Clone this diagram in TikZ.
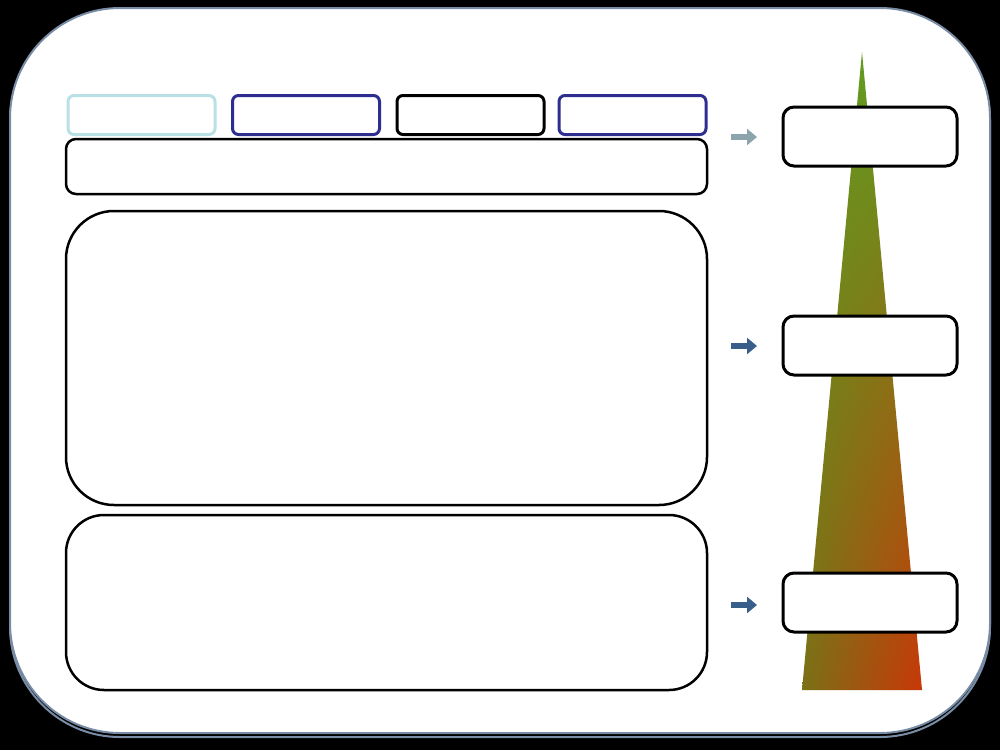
\documentclass[tikz,border=0pt]{standalone}
\usetikzlibrary{arrows.meta,shadings}
\definecolor{frame}{RGB}{120,140,165}
\definecolor{lcyan}{RGB}{185,224,228}
\definecolor{dblue}{RGB}{46,46,145}
\definecolor{agray}{RGB}{140,165,172}
\definecolor{ablue}{RGB}{58,94,140}
\definecolor{tgreen}{RGB}{98,155,32}
\definecolor{tolive}{RGB}{122,112,22}
\definecolor{torange}{RGB}{200,55,8}
\tikzset{
  smallbox/.style={draw, line width=3pt, rounded corners=6pt, fill=white, inner sep=0pt, minimum width=147pt, minimum height=39pt},
  bigbox/.style={draw=black, line width=2.5pt, fill=white, inner sep=0pt},
  sidebox/.style={draw=black, line width=3pt, rounded corners=11pt, fill=white, inner sep=0pt, minimum width=174pt, minimum height=59pt},
  fatarrow/.style={line width=6pt, -{Triangle[length=10pt,width=16pt]}},
}
\begin{document}
\begin{tikzpicture}[x=1pt,y=-1pt]
\useasboundingbox (0,0) rectangle (1000,750);
\fill[black] (0,0) rectangle (1000,750);
% outer panel with shadow
\draw[frame, line width=2pt, rounded corners=110pt] (10,11) rectangle (990,737);
\draw[frame, line width=2pt, fill=white, rounded corners=110pt] (10,8) rectangle (990,733);
% triangle
\begin{scope}
\clip (862,52) -- (922,690) -- (802,690) -- cycle;
\shade[upper left=tgreen, upper right=tgreen, lower left=tolive, lower right=torange] (802,52) rectangle (922,690);
\end{scope}
% top small boxes
\node[smallbox, draw=lcyan] (b1) at (141.5,115) {};
\node[smallbox, draw=dblue] (b2) at (306,115) {};
\node[smallbox, draw=black] (b3) at (470.5,115) {};
\node[smallbox, draw=dblue] (b4) at (632.5,115) {};
% wide and large boxes
\node[bigbox, rounded corners=10pt, minimum width=641pt, minimum height=55pt] (wide) at (386.5,166.5) {};
\node[bigbox, rounded corners=48pt, minimum width=641pt, minimum height=294pt] (main) at (386.5,358) {};
\node[bigbox, rounded corners=38pt, minimum width=641pt, minimum height=175pt] (lower) at (386.5,602.5) {};
% side boxes
\node[sidebox] (s1) at (870,136.5) {};
\node[sidebox] (s2) at (870,345.5) {};
\node[sidebox] (s3) at (870,602.5) {};
% arrows
\coordinate (a1s) at (731,137); \coordinate (a1e) at (757,137);
\coordinate (a2s) at (731,346); \coordinate (a2e) at (757,346);
\coordinate (a3s) at (731,605); \coordinate (a3e) at (757,605);
\draw[fatarrow, agray] (a1s) -- (a1e);
\draw[fatarrow, ablue] (a2s) -- (a2e);
\draw[fatarrow, ablue] (a3s) -- (a3e);
\end{tikzpicture}
\end{document}
